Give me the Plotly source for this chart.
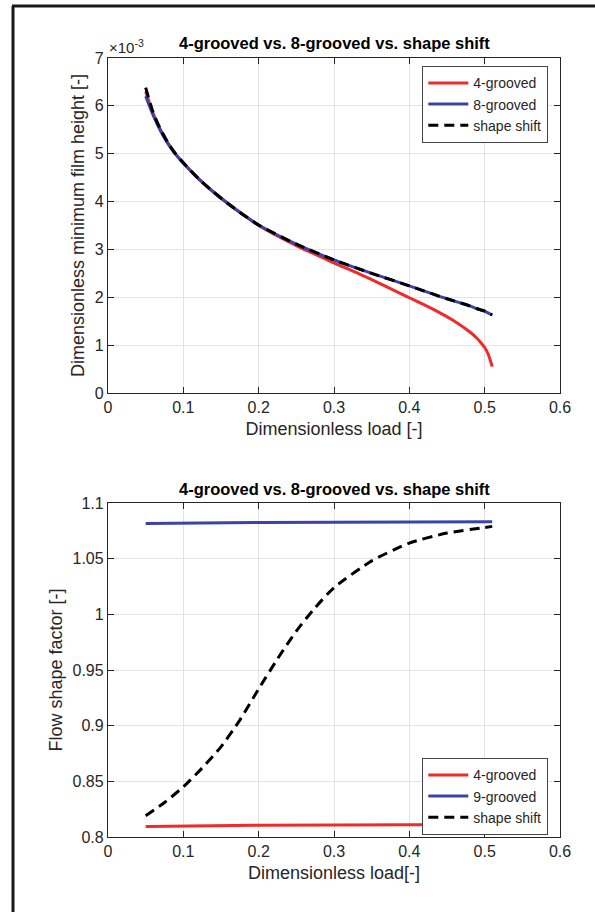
import plotly.graph_objects as go

# ---------------- data ----------------
# Top panel: dimensionless minimum film height (x 10^-3)
load_top = [0.05, 0.06, 0.07, 0.08, 0.09, 0.10, 0.12, 0.14, 0.16, 0.18, 0.20,
            0.25, 0.30, 0.35, 0.40, 0.42, 0.44, 0.46, 0.48, 0.49, 0.495, 0.50, 0.505, 0.51]
h_4grooved = [6.30, 5.84, 5.49, 5.21, 4.99, 4.81, 4.48, 4.20, 3.95, 3.72, 3.50,
              3.08, 2.72, 2.37, 1.99, 1.84, 1.68, 1.50, 1.28, 1.14, 1.05, 0.95, 0.80, 0.55]
h_8grooved = [6.20, 5.80, 5.47, 5.20, 4.98, 4.80, 4.48, 4.20, 3.95, 3.72, 3.51,
              3.11, 2.78, 2.50, 2.24, 2.13, 2.02, 1.92, 1.82, 1.76, 1.735, 1.71, 1.67, 1.63]
h_shapeshift = [6.38, 5.86, 5.50, 5.22, 4.99, 4.81, 4.48, 4.20, 3.95, 3.72, 3.51,
                3.11, 2.78, 2.50, 2.24, 2.13, 2.02, 1.92, 1.82, 1.76, 1.735, 1.71, 1.67, 1.63]

# Bottom panel: flow shape factor
load_flat = [0.05, 0.10, 0.20, 0.30, 0.40, 0.50, 0.51]
fsf_4grooved = [0.8095, 0.8100, 0.8105, 0.8108, 0.8110, 0.8112, 0.8112]
fsf_9grooved = [1.0815, 1.0820, 1.0825, 1.0828, 1.0830, 1.0832, 1.0832]
load_shift = [0.05, 0.075, 0.10, 0.125, 0.15, 0.175, 0.20, 0.225, 0.25, 0.275,
              0.30, 0.35, 0.40, 0.45, 0.50, 0.51]
fsf_shapeshift = [0.819, 0.831, 0.845, 0.862, 0.881, 0.905, 0.933, 0.960, 0.985, 1.006,
                  1.024, 1.048, 1.064, 1.073, 1.078, 1.079]

x_ticks = [0, 0.1, 0.2, 0.3, 0.4, 0.5, 0.6]
x_ticktext = ["0", "0.1", "0.2", "0.3", "0.4", "0.5", "0.6"]
y1_ticks = [0, 1, 2, 3, 4, 5, 6, 7]
y1_ticktext = ["0", "1", "2", "3", "4", "5", "6", "7"]
y2_ticks = [0.8, 0.85, 0.9, 0.95, 1.0, 1.05, 1.1]
y2_ticktext = ["0.8", "0.85", "0.9", "0.95", "1", "1.05", "1.1"]

title_text = "4-grooved vs. 8-grooved vs. shape shift"

# ---------------- style ----------------
FONT = "Liberation Sans, Arial, sans-serif"
RED = "#F02A2A"
BLUE = "#3A44A6"
BLACK = "#000000"
AX = "#262626"
GRID = "#E3E3E3"

fig = go.Figure()

fig.add_trace(go.Scatter(x=load_top, y=h_4grooved, mode="lines", name="4-grooved",
                         line=dict(color=RED, width=3, shape="spline", smoothing=0.6),
                         xaxis="x", yaxis="y", legend="legend"))
fig.add_trace(go.Scatter(x=load_top, y=h_8grooved, mode="lines", name="8-grooved",
                         line=dict(color=BLUE, width=3, shape="spline", smoothing=0.6),
                         xaxis="x", yaxis="y", legend="legend"))
fig.add_trace(go.Scatter(x=load_top, y=h_shapeshift, mode="lines", name="shape shift",
                         line=dict(color=BLACK, width=3, dash="10px,6px", shape="spline", smoothing=0.6),
                         xaxis="x", yaxis="y", legend="legend"))

fig.add_trace(go.Scatter(x=load_flat, y=fsf_4grooved, mode="lines", name="4-grooved",
                         line=dict(color=RED, width=3), xaxis="x2", yaxis="y2", legend="legend2"))
fig.add_trace(go.Scatter(x=load_flat, y=fsf_9grooved, mode="lines", name="9-grooved",
                         line=dict(color=BLUE, width=3), xaxis="x2", yaxis="y2", legend="legend2"))
fig.add_trace(go.Scatter(x=load_shift, y=fsf_shapeshift, mode="lines", name="shape shift",
                         line=dict(color=BLACK, width=3, dash="10px,6px", shape="spline", smoothing=0.6),
                         xaxis="x2", yaxis="y2", legend="legend2"))

W, H = 595, 912
L, R, T, B = 108, 35, 58, 75
plot_h = H - T - B  # pixels of paper


def py(pix):  # pixel y -> paper y
    return (H - B - pix) / plot_h


def px(pix):  # pixel x -> paper x
    return (pix - L) / (W - L - R)


axis_common = dict(
    showline=True, linecolor=AX, linewidth=1.3, mirror="allticks",
    ticks="inside", ticklen=6, tickwidth=1, tickcolor=AX,
    showgrid=True, gridcolor=GRID, gridwidth=1, zeroline=False,
    tickfont=dict(family=FONT, size=16, color=AX),
)

fig.update_layout(
    width=W, height=H,
    margin=dict(l=L, r=R, t=T, b=B, autoexpand=False),
    paper_bgcolor="white", plot_bgcolor="white",
    font=dict(family=FONT, color=AX),
    showlegend=True,
    xaxis=dict(domain=[0, 1], range=[0, 0.6], anchor="y",
               tickvals=x_ticks, ticktext=x_ticktext,
               title=dict(text="Dimensionless load [-]", font=dict(size=18, color=AX), standoff=7),
               **axis_common),
    yaxis=dict(domain=[py(393), 1], range=[0, 7], anchor="x",
               tickvals=y1_ticks, ticktext=y1_ticktext,
               title=dict(text="Dimensionless minimum film height [-]", font=dict(size=18, color=AX),
                          standoff=5),
               **axis_common),
    xaxis2=dict(domain=[0, 1], range=[0, 0.6], anchor="y2",
                tickvals=x_ticks, ticktext=x_ticktext,
                title=dict(text="Dimensionless load[-]", font=dict(size=18, color=AX), standoff=7),
                **axis_common),
    yaxis2=dict(domain=[0, py(503)], range=[0.8, 1.1], anchor="x2",
                tickvals=y2_ticks, ticktext=y2_ticktext,
                title=dict(text="Flow shape factor [-]", font=dict(size=18, color=AX), standoff=5),
                **axis_common),
    legend=dict(x=px(422), y=py(66), xanchor="left", yanchor="top",
                bgcolor="white", bordercolor="#444444", borderwidth=1.3,
                font=dict(family=FONT, size=14, color=AX),
                tracegroupgap=0, itemwidth=40),
    legend2=dict(x=px(422), y=py(758), xanchor="left", yanchor="top",
                 bgcolor="white", bordercolor="#444444", borderwidth=1.3,
                 font=dict(family=FONT, size=14, color=AX),
                 tracegroupgap=0, itemwidth=40),
)

annotations = [
    dict(text="<b>" + title_text + "</b>", x=0.5, y=py(43), xref="paper", yref="paper",
         xanchor="center", yanchor="middle", showarrow=False,
         font=dict(family=FONT, size=16.5, color=BLACK)),
    dict(text="<b>" + title_text + "</b>", x=0.5, y=py(489), xref="paper", yref="paper",
         xanchor="center", yanchor="middle", showarrow=False,
         font=dict(family=FONT, size=16.5, color=BLACK)),
    dict(text="×10<sup>-3</sup>", x=px(107), y=py(47), xref="paper", yref="paper",
         xanchor="left", yanchor="middle", showarrow=False,
         font=dict(family=FONT, size=15, color=AX)),
]
fig.update_layout(annotations=annotations)

# outer frame (left and top edges of the cropped figure border)
fig.add_shape(type="line", xref="paper", yref="paper",
              x0=px(13), x1=px(13), y0=py(H + 5), y1=py(6),
              line=dict(color="#1A1A1A", width=3))
fig.add_shape(type="line", xref="paper", yref="paper",
              x0=px(12), x1=px(W + 5), y0=py(6), y1=py(6),
              line=dict(color="#1A1A1A", width=3))

fig.write_html("out.html")
